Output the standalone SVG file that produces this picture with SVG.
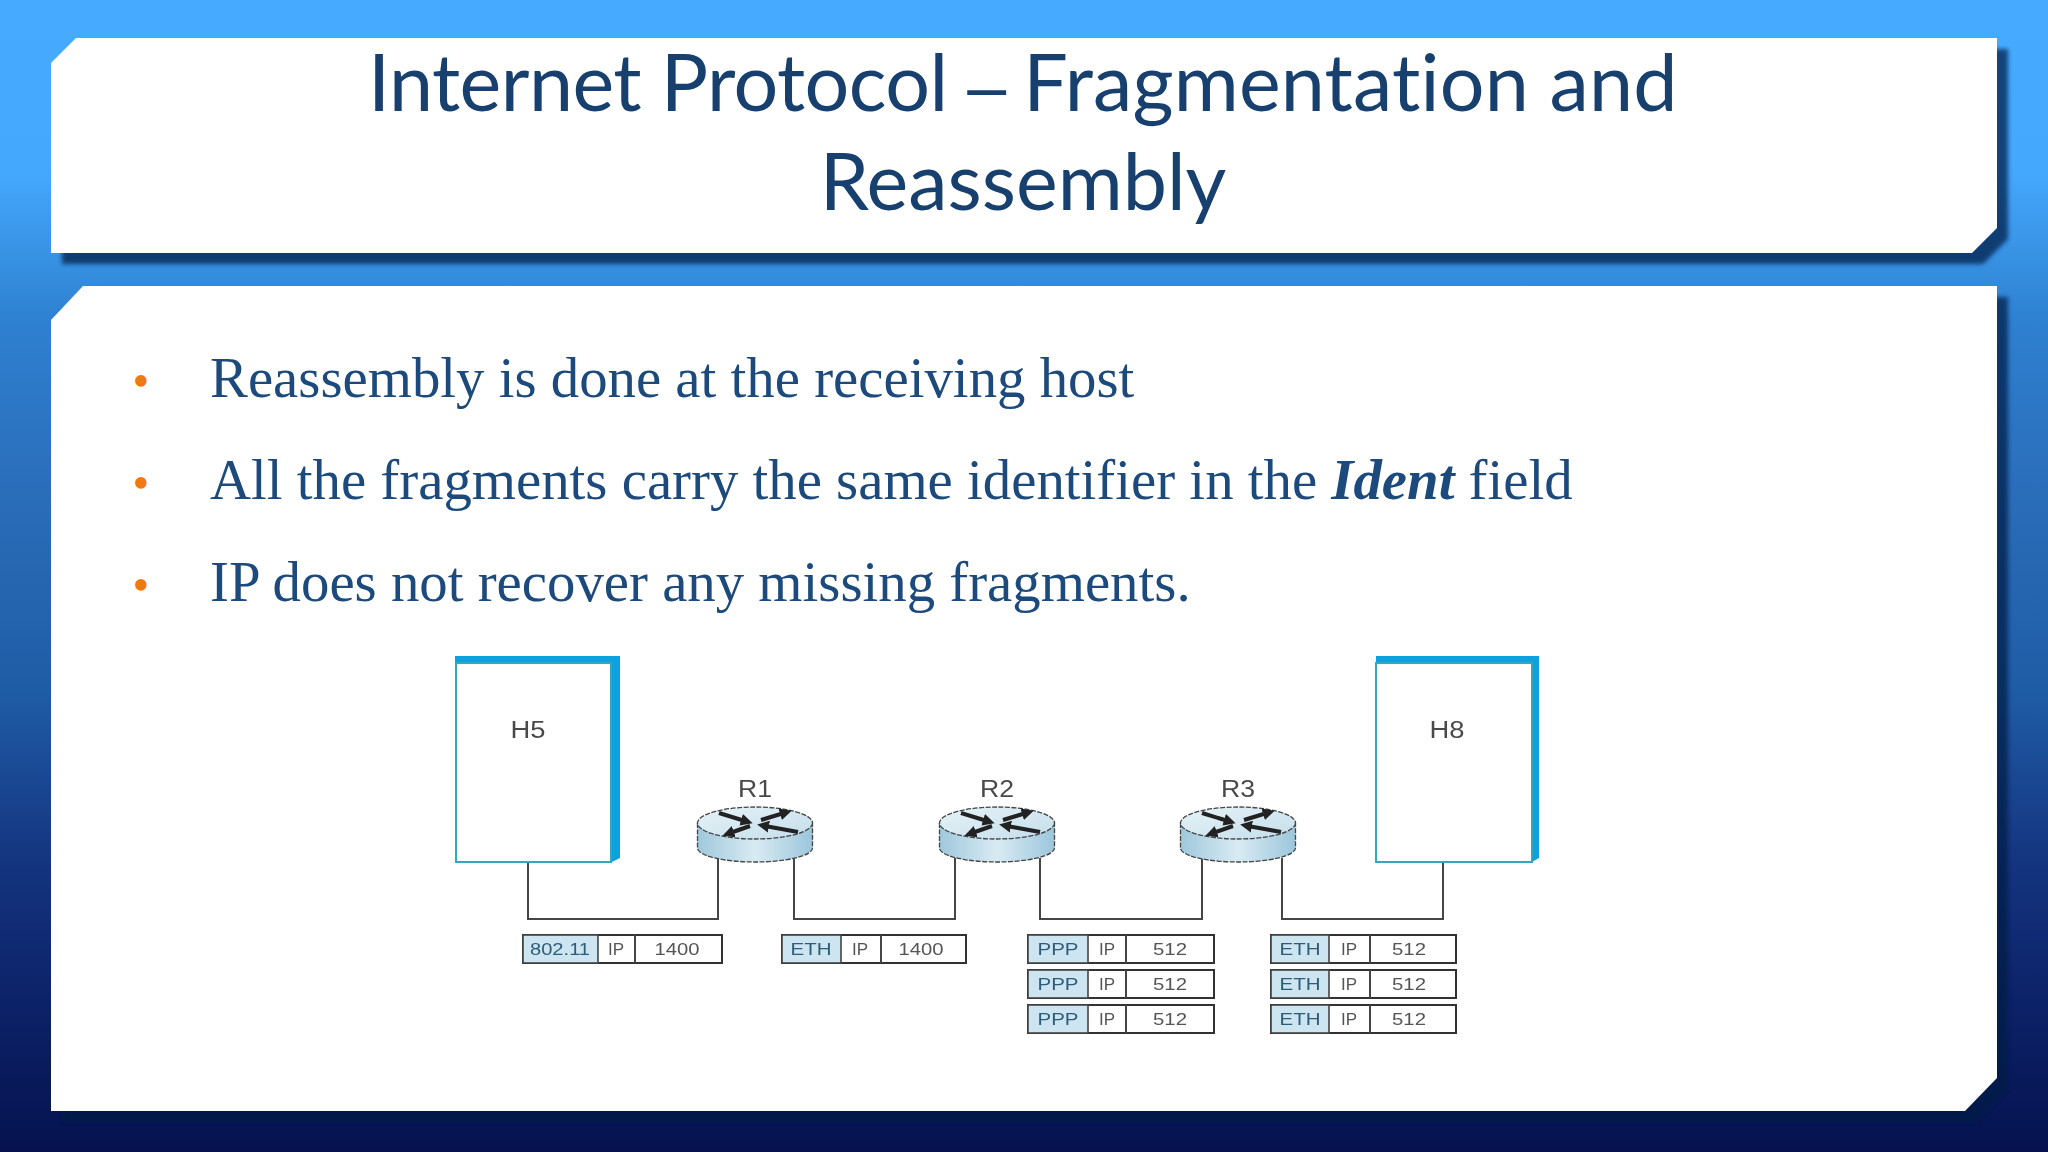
<svg xmlns="http://www.w3.org/2000/svg" xmlns:xlink="http://www.w3.org/1999/xlink" width="2048" height="1152" viewBox="0 0 2048 1152">
<defs>
<linearGradient id="bg" x1="0" y1="0" x2="0" y2="1">
<stop offset="0" stop-color="#46abff"/><stop offset=".15" stop-color="#44a8fc"/><stop offset=".28" stop-color="#2e80d0"/><stop offset=".44" stop-color="#2a6cb8"/><stop offset=".6" stop-color="#1f5ca6"/><stop offset=".75" stop-color="#14347f"/><stop offset=".87" stop-color="#0c2268"/><stop offset="1" stop-color="#05124f"/>
</linearGradient>
<linearGradient id="side" x1="0" y1="0" x2="1" y2="0">
<stop offset="0" stop-color="#9fc8dc"/><stop offset=".5" stop-color="#d8ebf3"/><stop offset="1" stop-color="#9cc6dc"/>
</linearGradient>
<linearGradient id="topf" x1="0" y1="0" x2="1" y2="1">
<stop offset="0" stop-color="#e6f2f7"/><stop offset="1" stop-color="#c4deeb"/>
</linearGradient>
<filter id="sh" x="-5%" y="-5%" width="110%" height="110%"><feGaussianBlur stdDeviation="2"/></filter>
<filter id="soft" x="-2%" y="-2%" width="104%" height="104%"><feGaussianBlur stdDeviation="0.6"/></filter>
<marker id="ah" markerUnits="userSpaceOnUse" markerWidth="14" markerHeight="12" refX="4" refY="6" orient="auto"><path d="M0 0L12 6L0 12Z" fill="#222"/></marker>
<g id="router">
<path d="M-57.500 0V25A57.500 14 0 0 0 57.500 25V0Z" fill="url(#side)" stroke="#444" stroke-width="1.300" stroke-dasharray="5 1.500"/>
<ellipse cx="0" cy="0" rx="57.500" ry="16" fill="url(#topf)" stroke="#444" stroke-width="1.300" stroke-dasharray="5 1.500"/>
<g class="arw">
<path d="M-36-10L-10-2"/><path d="M-5 3L-25 10"/><path d="M6-3L29-10"/><path d="M43 9L10 3"/>
</g>
</g>
</defs>
<style>
.panel{fill:#fff}
.shadow{fill:#031a45;opacity:.72;filter:url(#sh)}
.title{font:79px Lato,"Open Sans",sans-serif;fill:#17406f;font-variant-ligatures:none}
.mid{text-anchor:middle}
.tight{letter-spacing:-.55px}
.wide{letter-spacing:.2px}
.dash{font:70px "Liberation Sans",sans-serif;word-spacing:-2.500px}
.body{font:56.800px "Liberation Serif",serif;fill:#1c4a7c}
.bullet{font:48px "Liberation Serif",serif;fill:#f07a12;text-anchor:middle}
.lbl{font:23px "Liberation Sans",sans-serif;fill:#4a4a4a;text-anchor:middle}
.cell{font:17px "Liberation Sans",sans-serif;fill:#555;text-anchor:middle}
.hd{fill:#2f5d78}
.wire{fill:none;stroke:#444;stroke-width:2}
.box{fill:#fff;stroke:#333;stroke-width:2}
.hcell{fill:#cde4f1;stroke:#444;stroke-width:1.600}
.arw path{fill:none;stroke:#222;stroke-width:4;marker-end:url(#ah)}
.band{fill:#0fa2de}
.inner{fill:#fff;stroke:#35a7bd;stroke-width:2}
</style>
<rect width="2048" height="1152" fill="url(#bg)"/>

<g id="title-panel">
<path class="shadow" d="M87 49H2008V239L1983 264H62V74Z"/>
<path class="panel" d="M76 38H1997V228L1972 253H51V63Z"/>
<text class="title" x="368" y="111"><tspan class="tight">Internet Protocol </tspan><tspan class="dash">– </tspan><tspan class="wide">Fragmentation and</tspan></text>
<text class="title mid" x="1023" y="210">Reassembly</text>
</g>

<g id="body-panel">
<path class="shadow" d="M94 297H2008V1089L1976 1122H62V331Z"/>
<path class="panel" d="M83 286H1997V1078L1965 1111H51V320Z"/>
<text class="bullet" x="141" y="397">•</text>
<text class="body" x="210" y="397">Reassembly is done at the receiving host</text>
<text class="bullet" x="141" y="499">•</text>
<text class="body" x="210" y="499">All the fragments carry the same identifier in the <tspan font-weight="bold" font-style="italic">Ident</tspan> field</text>
<text class="bullet" x="141" y="601">•</text>
<text class="body" x="210" y="601">IP does not recover any missing fragments.</text>
</g>

<g id="figure" filter="url(#soft)">
<g id="connectors">
<path class="wire" d="M528 862V919H718V858"/>
<path class="wire" d="M794 858V919H955V858"/>
<path class="wire" d="M1040 858V919H1202V858"/>
<path class="wire" d="M1282 858V919H1443V862"/>
</g>
<g id="H5">
<path class="band" d="M455 656H620V858L612 862H455Z"/>
<rect class="inner" x="456" y="663" width="155" height="199"/>
<text class="lbl" x="528" y="738" textLength="35" lengthAdjust="spacingAndGlyphs">H5</text>
</g>
<g id="H8">
<path class="band" d="M1376 656H1539V858L1532 862H1376Z"/>
<rect class="inner" x="1376" y="663" width="156" height="199"/>
<text class="lbl" x="1447" y="738" textLength="35" lengthAdjust="spacingAndGlyphs">H8</text>
</g>
<g id="R1"><use xlink:href="#router" href="#router" x="755" y="823"/><text class="lbl" x="755" y="797" textLength="34" lengthAdjust="spacingAndGlyphs">R1</text></g>
<g id="R2"><use xlink:href="#router" href="#router" x="997" y="823"/><text class="lbl" x="997" y="797" textLength="34" lengthAdjust="spacingAndGlyphs">R2</text></g>
<g id="R3"><use xlink:href="#router" href="#router" x="1238" y="823"/><text class="lbl" x="1238" y="797" textLength="34" lengthAdjust="spacingAndGlyphs">R3</text></g>

<g id="packet-h5-r1">
<rect class="box" x="523" y="935" width="199" height="28"/><rect class="hcell" x="523" y="935" width="75" height="28"/><path class="wire" d="M635 935V963"/>
<text class="cell hd" x="560" y="955" textLength="60" lengthAdjust="spacingAndGlyphs">802.11</text><text class="cell" x="616" y="955">IP</text><text class="cell" x="677" y="955" textLength="45" lengthAdjust="spacingAndGlyphs">1400</text>
</g>
<g id="packet-r1-r2">
<rect class="box" x="782" y="935" width="184" height="28"/><rect class="hcell" x="782" y="935" width="59" height="28"/><path class="wire" d="M881 935V963"/>
<text class="cell hd" x="811" y="955" textLength="41" lengthAdjust="spacingAndGlyphs">ETH</text><text class="cell" x="860" y="955">IP</text><text class="cell" x="921" y="955" textLength="45" lengthAdjust="spacingAndGlyphs">1400</text>
</g>
<g id="packet-r2-r3-1">
<rect class="box" x="1028" y="935" width="186" height="28"/><rect class="hcell" x="1028" y="935" width="60" height="28"/><path class="wire" d="M1126 935V963"/>
<text class="cell hd" x="1058" y="955" textLength="41" lengthAdjust="spacingAndGlyphs">PPP</text><text class="cell" x="1107" y="955">IP</text><text class="cell" x="1170" y="955" textLength="34" lengthAdjust="spacingAndGlyphs">512</text>
</g>
<g id="packet-r2-r3-2">
<rect class="box" x="1028" y="970" width="186" height="28"/><rect class="hcell" x="1028" y="970" width="60" height="28"/><path class="wire" d="M1126 970V998"/>
<text class="cell hd" x="1058" y="990" textLength="41" lengthAdjust="spacingAndGlyphs">PPP</text><text class="cell" x="1107" y="990">IP</text><text class="cell" x="1170" y="990" textLength="34" lengthAdjust="spacingAndGlyphs">512</text>
</g>
<g id="packet-r2-r3-3">
<rect class="box" x="1028" y="1005" width="186" height="28"/><rect class="hcell" x="1028" y="1005" width="60" height="28"/><path class="wire" d="M1126 1005V1033"/>
<text class="cell hd" x="1058" y="1025" textLength="41" lengthAdjust="spacingAndGlyphs">PPP</text><text class="cell" x="1107" y="1025">IP</text><text class="cell" x="1170" y="1025" textLength="34" lengthAdjust="spacingAndGlyphs">512</text>
</g>
<g id="packet-r3-h8-1">
<rect class="box" x="1271" y="935" width="185" height="28"/><rect class="hcell" x="1271" y="935" width="58" height="28"/><path class="wire" d="M1370 935V963"/>
<text class="cell hd" x="1300" y="955" textLength="41" lengthAdjust="spacingAndGlyphs">ETH</text><text class="cell" x="1349" y="955">IP</text><text class="cell" x="1409" y="955" textLength="34" lengthAdjust="spacingAndGlyphs">512</text>
</g>
<g id="packet-r3-h8-2">
<rect class="box" x="1271" y="970" width="185" height="28"/><rect class="hcell" x="1271" y="970" width="58" height="28"/><path class="wire" d="M1370 970V998"/>
<text class="cell hd" x="1300" y="990" textLength="41" lengthAdjust="spacingAndGlyphs">ETH</text><text class="cell" x="1349" y="990">IP</text><text class="cell" x="1409" y="990" textLength="34" lengthAdjust="spacingAndGlyphs">512</text>
</g>
<g id="packet-r3-h8-3">
<rect class="box" x="1271" y="1005" width="185" height="28"/><rect class="hcell" x="1271" y="1005" width="58" height="28"/><path class="wire" d="M1370 1005V1033"/>
<text class="cell hd" x="1300" y="1025" textLength="41" lengthAdjust="spacingAndGlyphs">ETH</text><text class="cell" x="1349" y="1025">IP</text><text class="cell" x="1409" y="1025" textLength="34" lengthAdjust="spacingAndGlyphs">512</text>
</g>
</g>
</svg>
